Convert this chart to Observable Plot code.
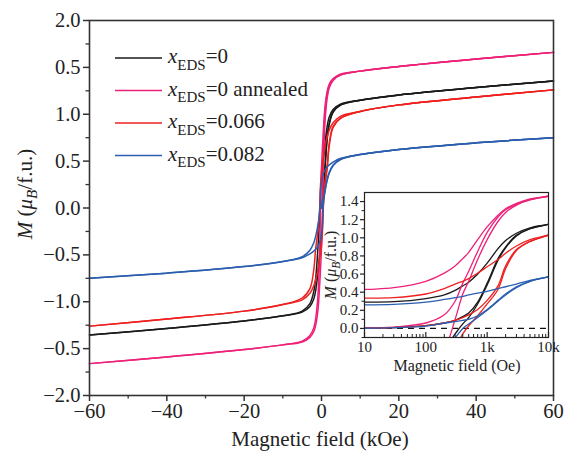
<!DOCTYPE html>
<html><head><meta charset="utf-8">
<script src="https://cdn.jsdelivr.net/npm/d3@7"></script>
<script src="https://cdn.jsdelivr.net/npm/@observablehq/plot@0.6"></script>
<style>
body{margin:0;background:#fff;}
#wrap{position:relative;width:568px;height:459px;font-family:"Liberation Serif","Times New Roman",serif;}
#wrap svg{position:absolute;}
</style></head><body><div id="wrap"></div>
<script>
// ---------- data ----------
const samples = ["x0", "x0a", "x066", "x082"];
const sampleLabels = ["0", "0 annealed", "0.066", "0.082"];
const colors = ["#1a1a1a", "#ee2179", "#ee2020", "#2b5eae"];
// field grid (Oe), positive side
const fieldOe = [0, 10, 30, 100, 200, 300, 400, 500, 700, 1000, 1500, 2000, 3000, 5000, 10000, 20000, 40000, 60000];
// descending branch (coming from +saturation), read at positive field
const descX0  = [0.29, 0.29, 0.295, 0.33, 0.37, 0.42, 0.47, 0.51, 0.60, 0.72, 0.88, 0.97, 1.05, 1.11, 1.15, 1.205, 1.285, 1.355];
const descX0a = [0.43, 0.43, 0.45, 0.52, 0.61, 0.69, 0.77, 0.84, 0.98, 1.12, 1.25, 1.32, 1.38, 1.43, 1.46, 1.51, 1.59, 1.66];
const descX066 = [0.335, 0.335, 0.34, 0.38, 0.44, 0.49, 0.52, 0.55, 0.61, 0.68, 0.76, 0.83, 0.91, 0.98, 1.03, 1.10, 1.185, 1.26];
const descX082 = [0.26, 0.26, 0.265, 0.29, 0.32, 0.34, 0.355, 0.37, 0.39, 0.41, 0.44, 0.46, 0.49, 0.53, 0.57, 0.625, 0.695, 0.75];
// ascending branch (coming from -saturation), read at positive field
const ascX0  = [-0.29, -0.29, -0.285, -0.27, -0.22, -0.06, 0.05, 0.12, 0.27, 0.48, 0.75, 0.89, 1.02, 1.10, 1.15, 1.205, 1.285, 1.355];
const ascX0a = [-0.43, -0.425, -0.415, -0.38, -0.22, 0.10, 0.38, 0.52, 0.76, 0.98, 1.18, 1.28, 1.36, 1.42, 1.46, 1.51, 1.59, 1.66];
const ascX066 = [-0.335, -0.33, -0.325, -0.31, -0.28, -0.20, -0.06, 0.03, 0.14, 0.27, 0.43, 0.66, 0.86, 0.96, 1.03, 1.10, 1.185, 1.26];
const ascX082 = [-0.26, -0.26, -0.255, -0.24, -0.20, -0.10, 0.0, 0.05, 0.12, 0.20, 0.30, 0.37, 0.45, 0.52, 0.57, 0.625, 0.695, 0.75];
// initial (virgin) magnetization curves
const virginX0  = [0, 0.003, 0.01, 0.03, 0.06, 0.09, 0.13, 0.17, 0.29, 0.50, 0.77, 0.90, 1.03, 1.10, 1.15, 1.205, 1.285, 1.355];
const virginX0a = [0, 0.005, 0.015, 0.06, 0.15, 0.30, 0.50, 0.63, 0.85, 1.06, 1.23, 1.31, 1.37, 1.42, 1.46, 1.51, 1.59, 1.66];
const virginX066 = [0, 0.003, 0.01, 0.03, 0.06, 0.09, 0.12, 0.15, 0.21, 0.31, 0.47, 0.69, 0.87, 0.96, 1.03, 1.10, 1.185, 1.26];
const virginX082 = [0, 0.002, 0.008, 0.025, 0.06, 0.075, 0.09, 0.10, 0.14, 0.21, 0.31, 0.38, 0.46, 0.52, 0.57, 0.625, 0.695, 0.75];

const xTicks = [-60, -40, -20, 0, 20, 40, 60];
const xMinor = [-50, -30, -10, 10, 30, 50];
const yTicks = [-2, -1.5, -1, -0.5, 0, 0.5, 1, 1.5, 2];
const yTickLabels = ["\u22122.0", "\u22120.5", "\u22121.0", "\u22120.5", "0.0", "0.5", "1.0", "0.5", "2.0"];
const yMinor = [-1.75, -1.25, -0.75, -0.25, 0.25, 0.75, 1.25, 1.75];
const insetXTicks = [10, 100, 1000, 10000];
const insetXLabels = ["10", "100", "1k", "10k"];
const insetXMinor = [20,30,40,50,60,70,80,90,200,300,400,500,600,700,800,900,2000,3000,4000,5000,6000,7000,8000,9000];
const insetYTicks = [0, 0.2, 0.4, 0.6, 0.8, 1.0, 1.2, 1.4];
const insetYMinor = [-0.1, 0.1, 0.3, 0.5, 0.7, 0.9, 1.1, 1.3];

// ---------- build loops (branches mirrored through the origin) ----------
const series = [
  {sample: "x0", desc: descX0, asc: ascX0, virgin: virginX0},
  {sample: "x0a", desc: descX0a, asc: ascX0a, virgin: virginX0a},
  {sample: "x066", desc: descX066, asc: ascX066, virgin: virginX066},
  {sample: "x082", desc: descX082, asc: ascX082, virgin: virginX082}
];
const rows = [];
const n = fieldOe.length;
series.forEach(s => {
  for (let i = n - 1; i >= 0; i--) rows.push({key: s.sample + "d", sample: s.sample, H: fieldOe[i], M: s.desc[i]});
  for (let i = 1; i < n; i++) rows.push({key: s.sample + "d", sample: s.sample, H: -fieldOe[i], M: -s.asc[i]});
  for (let i = n - 1; i >= 1; i--) rows.push({key: s.sample + "a", sample: s.sample, H: -fieldOe[i], M: -s.desc[i]});
  for (let i = 0; i < n; i++) rows.push({key: s.sample + "a", sample: s.sample, H: fieldOe[i], M: s.asc[i]});
  for (let i = 0; i < n; i++) rows.push({key: s.sample + "v", sample: s.sample, H: fieldOe[i], M: s.virgin[i]});
});
const insetRows = rows.filter(d => d.H >= 10 && d.H <= 20000);

const FONT = '"Liberation Serif","Times New Roman",serif';
const fmtMinus = d => d < 0 ? "\u2212" + (-d) : String(d);
const wrap = document.getElementById("wrap");

// ---------- main plot ----------
const main = Plot.plot({
  width: 568, height: 459,
  marginLeft: 89, marginRight: 15, marginTop: 20, marginBottom: 64,
  style: {fontFamily: FONT, fontSize: "20.5px", background: "transparent", color: "#222", overflow: "visible"},
  x: {domain: [-60, 60], label: null},
  y: {domain: [-2, 2], label: null},
  color: {domain: samples, range: colors},
  marks: [
    Plot.line(rows, {x: d => d.H / 1000, y: "M", z: "key", stroke: "sample", strokeWidth: 1.5, curve: "catmull-rom"}),
    Plot.frame({stroke: "#333", strokeWidth: 1.6}),
    Plot.axisX(xTicks, {tickSize: 6, tickPadding: 2, strokeWidth: 1.5, stroke: "#333", tickFormat: fmtMinus, label: null}),
    Plot.axisX(xMinor, {tickSize: 3.5, strokeWidth: 1.3, stroke: "#333", tickFormat: () => "", label: null}),
    Plot.axisY(yTicks, {tickSize: 6, tickPadding: 3, strokeWidth: 1.5, stroke: "#333", tickFormat: d => yTickLabels[yTicks.indexOf(d)], label: null}),
    Plot.axisY(yMinor, {tickSize: 3.5, strokeWidth: 1.3, stroke: "#333", tickFormat: () => "", label: null})
  ]
});
main.style.left = "0px"; main.style.top = "0px";
wrap.appendChild(main);

const ms = d3.select(main);
// x label
ms.append("text").attr("x", 320).attr("y", 446).attr("text-anchor", "middle")
  .attr("font-size", 21).attr("fill", "#222").text("Magnetic field (kOe)");
// y label
function mLabel(sel, x, y, size, sub) {
  const t = sel.append("text").attr("transform", `translate(${x},${y}) rotate(-90)`)
    .attr("text-anchor", "middle").attr("font-size", size).attr("fill", "#222");
  t.append("tspan").attr("font-style", "italic").text("M");
  t.append("tspan").text(" (");
  t.append("tspan").attr("font-style", "italic").text("\u03bc");
  t.append("tspan").attr("font-style", "italic").attr("font-size", size * 0.72).attr("dy", sub).text("B");
  t.append("tspan").attr("dy", -sub).text("/f.u.)");
}
mLabel(ms, 32, 194, 21, 5);
// legend
const lg = ms.append("g");
samples.forEach((s, i) => {
  const y = 58 + 32.5 * i;
  lg.append("line").attr("x1", 115).attr("x2", 162).attr("y1", y).attr("y2", y)
    .attr("stroke", colors[i]).attr("stroke-width", 1.5);
  const t = lg.append("text").attr("x", 168).attr("y", y + 5).attr("text-anchor", "start")
    .attr("font-size", 21).attr("fill", "#222");
  t.append("tspan").attr("font-style", "italic").text("x");
  t.append("tspan").attr("font-size", 15).attr("dy", 6.5).text("EDS");
  t.append("tspan").attr("dy", -6.5).text("=" + sampleLabels[i]);
});

// ---------- inset ----------
const inset = Plot.plot({
  width: 232, height: 195,
  marginLeft: 44, marginRight: 4, marginTop: 10, marginBottom: 40,
  style: {fontFamily: FONT, fontSize: "15px", background: "transparent", color: "#222", overflow: "visible"},
  x: {type: "log", domain: [10, 10000], label: null},
  y: {domain: [-0.1, 1.5], label: null},
  color: {domain: samples, range: colors},
  marks: [
    Plot.frame({fill: "white"}),
    Plot.ruleY([0], {stroke: "#111", strokeWidth: 1.2, strokeDasharray: "6,5"}),
    Plot.line(insetRows, {x: "H", y: "M", z: "key", stroke: "sample", strokeWidth: 1.3, curve: "catmull-rom", clip: true}),
    Plot.frame({stroke: "#222", strokeWidth: 1.2}),
    Plot.axisX(insetXTicks, {tickSize: -5, tickPadding: 9, strokeWidth: 1.2, tickFormat: d => insetXLabels[insetXTicks.indexOf(d)], label: null}),
    Plot.axisX(insetXMinor, {tickSize: -3, strokeWidth: 1, tickFormat: () => "", label: null}),
    Plot.axisY(insetYTicks, {tickSize: 4, tickPadding: 2, strokeWidth: 1.2, tickFormat: d => d.toFixed(1), label: null}),
    Plot.axisY(insetYMinor, {tickSize: 2.5, strokeWidth: 1, tickFormat: () => "", label: null})
  ]
});
inset.style.left = "320px"; inset.style.top = "182px";
wrap.appendChild(inset);
const is = d3.select(inset);
is.append("text").attr("x", 137).attr("y", 189).attr("text-anchor", "middle")
  .attr("font-size", 16).attr("fill", "#222").text("Magnetic field (Oe)");
mLabel(is, 16, 83, 16, 4);
</script></body></html>
